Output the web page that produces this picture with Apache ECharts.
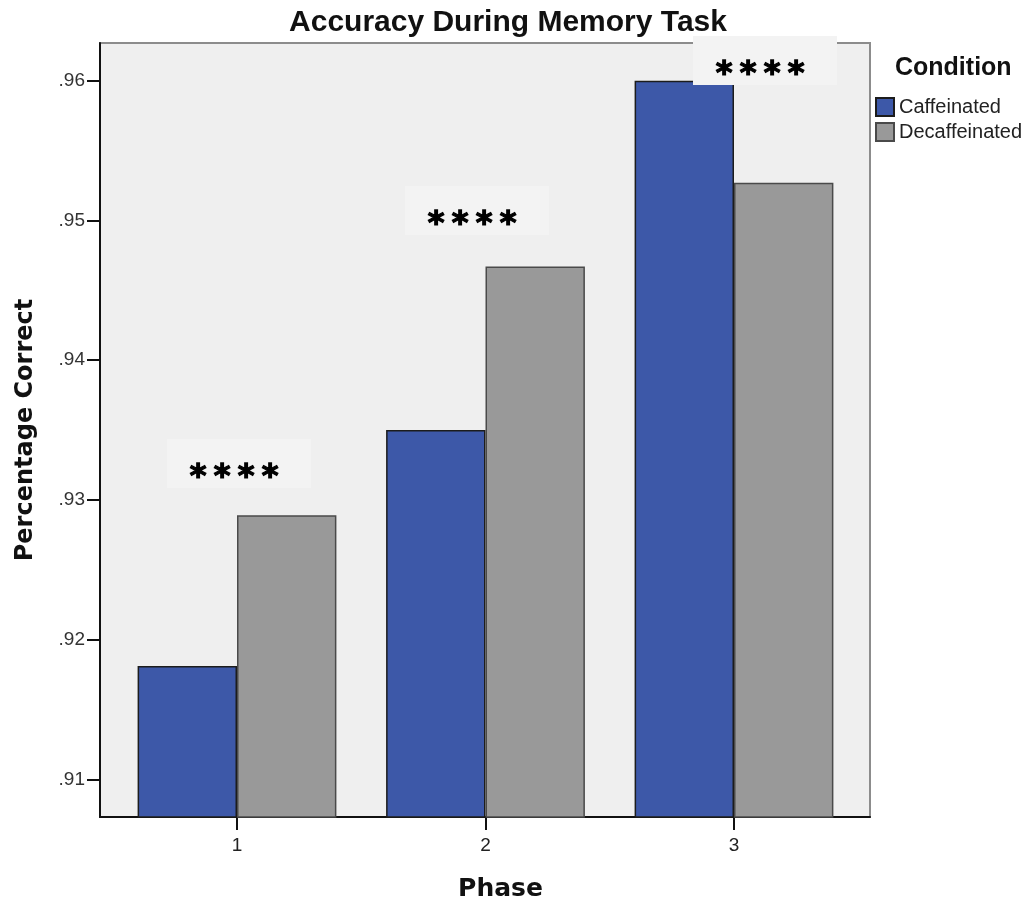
<!DOCTYPE html>
<html>
<head>
<meta charset="utf-8">
<script src="https://cdn.jsdelivr.net/npm/echarts@6/dist/echarts.min.js"></script>
<style>
html,body{margin:0;padding:0;background:#fff;}
#chart{width:1034px;height:912px;}
</style>
</head>
<body>
<div id="chart"></div>
<script>
// ---- data ----
const phases = ['1', '2', '3'];
const seriesNames = ['Caffeinated', 'Decaffeinated'];
const caffeinated = [0.9181, 0.9350, 0.9600];
const decaffeinated = [0.9289, 0.9467, 0.9527];
const yTicks = [0.91, 0.92, 0.93, 0.94, 0.95, 0.96];
const annotations = ['****', '****', '****'];

const Y_MIN = 0.9073, Y_MAX = 0.9627;
const fmt = v => Number(v).toFixed(2).replace(/^0/, '');

const chart = echarts.init(document.getElementById('chart'), null, {renderer: 'canvas'});

const annoBoxes = [
  {x: 167, y: 439},
  {x: 405, y: 186},
  {x: 693, y: 36}
];

function starChildren(str) {
  const chars = str.split('');
  const n = chars.length;
  return chars.map((c, k) => ({
    type: 'text', x: 67 + (k - (n - 1) / 2) * 24, y: 39, z: 101,
    style: {text: c, textAlign: 'center', textVerticalAlign: 'middle',
            font: 'bold 32px "DejaVu Sans"', fill: '#000', stroke: '#000', lineWidth: 1.3}
  }));
}

const option = {
  backgroundColor: '#ffffff',
  animation: false,
  grid: [
    {left: 100, right: 164, top: 43, bottom: 95, show: true,
     backgroundColor: '#efefef', borderColor: '#8c8c8c', borderWidth: 2},
    {left: 112.75, right: 175.75, top: 43, bottom: 95}
  ],
  xAxis: [
    {gridIndex: 0, type: 'value', min: 0, max: 1,
     axisLine: {show: true, lineStyle: {color: '#111', width: 2}},
     axisTick: {show: false}, axisLabel: {show: false}, splitLine: {show: false}},
    {gridIndex: 1, type: 'category', data: phases,
     axisLine: {show: false},
     axisTick: {show: true, alignWithLabel: true, length: 13, lineStyle: {color: '#111', width: 2}},
     axisLabel: {fontSize: 19, color: '#222', margin: 19, fontFamily: 'Liberation Sans'},
     name: 'Phase', nameLocation: 'middle', nameGap: 60,
     nameTextStyle: {fontSize: 25, fontWeight: 'bold', color: '#111', fontFamily: 'DejaVu Sans', padding: [0, 0, 0, 30]}}
  ],
  yAxis: [
    {gridIndex: 0, type: 'value', min: Y_MIN, max: Y_MAX,
     axisLine: {show: true, lineStyle: {color: '#111', width: 2}},
     axisTick: {show: true, customValues: yTicks, length: 13, lineStyle: {color: '#111', width: 2}},
     axisLabel: {customValues: yTicks, formatter: fmt, fontSize: 19, color: '#333', margin: 15, fontFamily: 'Liberation Sans'},
     splitLine: {show: false},
     name: 'Percentage Correct', nameLocation: 'middle', nameGap: 62,
     nameTextStyle: {fontSize: 24, fontWeight: 'bold', color: '#111', fontFamily: 'DejaVu Sans'}},
    {gridIndex: 1, type: 'value', min: Y_MIN, max: Y_MAX, show: false, splitLine: {show: false}}
  ],
  legend: {
    orient: 'vertical', left: 870, top: 92,
    itemWidth: 18, itemHeight: 18, itemGap: 5,
    icon: 'rect',
    data: seriesNames,
    textStyle: {fontSize: 20, color: '#222', fontFamily: 'Liberation Sans'}
  },
  series: [
    {name: seriesNames[0], type: 'bar', xAxisIndex: 1, yAxisIndex: 1,
     data: caffeinated, barWidth: '40%', barGap: '0%',
     itemStyle: {color: '#3d58a8', borderColor: '#1c1c1c', borderWidth: 1.5}},
    {name: seriesNames[1], type: 'bar', xAxisIndex: 1, yAxisIndex: 1,
     data: decaffeinated, barWidth: '40%', barGap: '0%',
     itemStyle: {color: '#999999', borderColor: '#4a4a4a', borderWidth: 1.5}}
  ],
  graphic: [
    {type: 'text', x: 508, y: 23, z: 100,
     style: {text: 'Accuracy During Memory Task', textAlign: 'center', textVerticalAlign: 'middle',
             font: 'bold 30px "Liberation Sans"', fill: '#111'}},
    {type: 'text', x: 895, y: 68, z: 100,
     style: {text: 'Condition', textAlign: 'left', textVerticalAlign: 'middle',
             font: 'bold 25px "Liberation Sans"', fill: '#111'}}
  ].concat(annoBoxes.map((b, i) => ({
    type: 'group', x: b.x, y: b.y, z: 100,
    children: [
      {type: 'rect', shape: {x: 0, y: 0, width: 144, height: 49}, style: {fill: '#f3f3f3'}, z: 100}
    ].concat(starChildren(annotations[i]))
  })))
};
chart.setOption(option);
</script>
</body>
</html>
